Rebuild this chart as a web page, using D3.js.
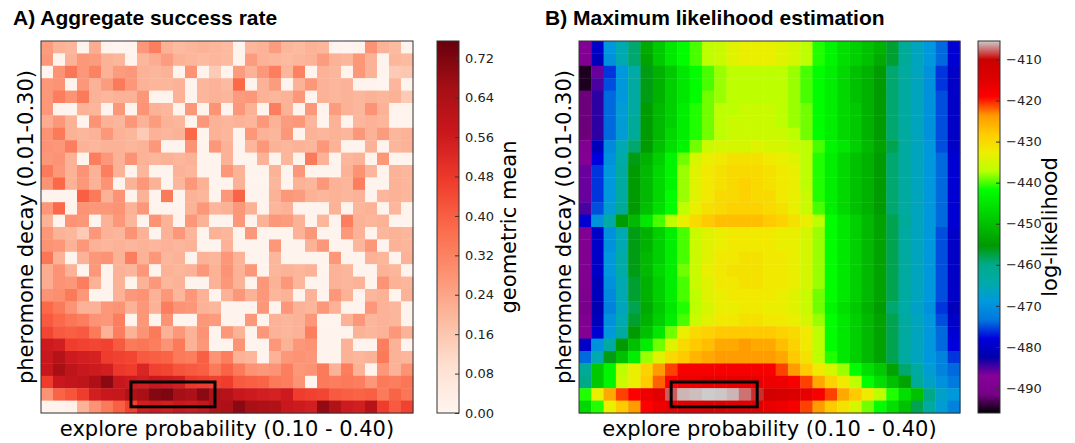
<!DOCTYPE html>
<html>
<head>
<meta charset="utf-8">
<script src="https://cdn.jsdelivr.net/npm/d3@7"></script>
<style>
  body { margin: 0; background: #fff; }
  text { font-family: "DejaVu Sans", sans-serif; }
</style>
</head>
<body>
<script>
// parameter grid
var exploreLevels = [0.10,0.11,0.12,0.13,0.14,0.15,0.16,0.17,0.18,0.19,0.20,0.21,0.22,0.23,0.24,0.25,
                     0.26,0.27,0.28,0.29,0.30,0.31,0.32,0.33,0.34,0.35,0.36,0.37,0.38,0.39,0.40];
// rows from top (0.30) to bottom (0.01)
var decayLevels = [0.30,0.29,0.28,0.27,0.26,0.25,0.24,0.23,0.22,0.21,0.20,0.19,0.18,0.17,0.16,
                   0.15,0.14,0.13,0.12,0.11,0.10,0.09,0.08,0.07,0.06,0.05,0.04,0.03,0.02,0.01];

// A) geometric mean success rate, one row per decay level
var successRate = [
 [0.26,0.21,0.20,0.01,0.22,0.01,0.00,0.01,0.27,0.33,0.21,0.19,0.20,0.21,0.20,0.19,0.01,0.20,0.21,0.26,0.20,0.19,0.21,0.20,0.01,0.00,0.01,0.28,0.21,0.19,0.01],
 [0.27,0.01,0.21,0.27,0.26,0.21,0.20,0.01,0.20,0.22,0.26,0.21,0.20,0.19,0.20,0.19,0.01,0.26,0.21,0.20,0.19,0.20,0.21,0.26,0.21,0.20,0.27,0.21,0.01,0.20,0.19],
 [0.01,0.28,0.35,0.27,0.32,0.21,0.26,0.27,0.21,0.20,0.21,0.01,0.28,0.01,0.15,0.01,0.26,0.21,0.27,0.33,0.20,0.32,0.01,0.21,0.20,0.01,0.27,0.21,0.01,0.15,0.16],
 [0.27,0.28,0.01,0.27,0.21,0.26,0.34,0.27,0.21,0.20,0.20,0.21,0.01,0.20,0.21,0.19,0.38,0.01,0.21,0.26,0.01,0.21,0.27,0.21,0.20,0.21,0.01,0.01,0.00,0.20,0.01],
 [0.27,0.33,0.28,0.34,0.21,0.20,0.21,0.21,0.27,0.01,0.01,0.21,0.01,0.20,0.21,0.20,0.26,0.27,0.21,0.20,0.21,0.27,0.01,0.21,0.20,0.21,0.20,0.21,0.20,0.21,0.15],
 [0.27,0.01,0.01,0.21,0.20,0.01,0.27,0.01,0.28,0.21,0.20,0.01,0.27,0.01,0.28,0.01,0.27,0.21,0.01,0.33,0.21,0.01,0.27,0.01,0.26,0.21,0.20,0.28,0.21,0.01,0.01],
 [0.22,0.27,0.21,0.01,0.28,0.21,0.20,0.27,0.21,0.26,0.21,0.20,0.01,0.27,0.21,0.20,0.21,0.20,0.27,0.21,0.26,0.27,0.20,0.01,0.21,0.01,0.20,0.21,0.20,0.01,0.01],
 [0.28,0.34,0.21,0.20,0.21,0.27,0.21,0.20,0.15,0.21,0.20,0.21,0.38,0.01,0.21,0.20,0.01,0.27,0.21,0.20,0.27,0.01,0.21,0.20,0.21,0.20,0.27,0.21,0.26,0.20,0.21],
 [0.28,0.27,0.33,0.21,0.20,0.21,0.21,0.20,0.21,0.27,0.01,0.01,0.28,0.01,0.27,0.21,0.01,0.20,0.27,0.21,0.20,0.21,0.20,0.27,0.21,0.01,0.01,0.21,0.01,0.20,0.21],
 [0.27,0.28,0.21,0.01,0.33,0.27,0.21,0.28,0.21,0.20,0.21,0.20,0.21,0.01,0.01,0.21,0.01,0.01,0.21,0.01,0.20,0.01,0.34,0.21,0.01,0.20,0.21,0.01,0.27,0.01,0.01],
 [0.34,0.27,0.21,0.28,0.21,0.33,0.21,0.01,0.20,0.01,0.01,0.21,0.20,0.01,0.01,0.27,0.21,0.01,0.01,0.21,0.01,0.27,0.01,0.01,0.01,0.21,0.28,0.20,0.01,0.21,0.20],
 [0.28,0.38,0.21,0.27,0.21,0.28,0.01,0.21,0.27,0.21,0.01,0.20,0.27,0.21,0.01,0.01,0.21,0.01,0.01,0.20,0.01,0.21,0.20,0.27,0.21,0.20,0.33,0.01,0.01,0.21,0.20],
 [0.01,0.01,0.01,0.40,0.34,0.21,0.28,0.01,0.21,0.01,0.34,0.01,0.21,0.20,0.01,0.27,0.39,0.01,0.01,0.21,0.27,0.26,0.21,0.20,0.21,0.20,0.21,0.01,0.20,0.21,0.20],
 [0.27,0.38,0.01,0.28,0.27,0.27,0.28,0.21,0.27,0.01,0.01,0.01,0.21,0.27,0.20,0.21,0.27,0.21,0.01,0.20,0.21,0.01,0.01,0.01,0.21,0.01,0.20,0.21,0.01,0.20,0.01],
 [0.21,0.01,0.28,0.27,0.01,0.21,0.27,0.20,0.01,0.28,0.21,0.01,0.27,0.21,0.01,0.01,0.27,0.01,0.21,0.27,0.26,0.21,0.01,0.20,0.01,0.33,0.21,0.20,0.21,0.01,0.01],
 [0.27,0.21,0.20,0.15,0.27,0.21,0.20,0.28,0.21,0.01,0.21,0.27,0.20,0.01,0.21,0.20,0.01,0.27,0.01,0.01,0.01,0.21,0.27,0.01,0.01,0.27,0.21,0.01,0.20,0.21,0.20],
 [0.28,0.27,0.21,0.27,0.21,0.20,0.21,0.20,0.21,0.20,0.21,0.20,0.21,0.01,0.01,0.21,0.01,0.01,0.01,0.27,0.01,0.01,0.21,0.27,0.01,0.01,0.20,0.27,0.01,0.21,0.20],
 [0.35,0.21,0.01,0.21,0.27,0.28,0.21,0.33,0.21,0.27,0.20,0.21,0.01,0.21,0.20,0.27,0.21,0.01,0.01,0.20,0.01,0.01,0.01,0.01,0.27,0.01,0.01,0.21,0.20,0.01,0.21],
 [0.22,0.28,0.21,0.01,0.27,0.01,0.21,0.20,0.27,0.01,0.21,0.20,0.21,0.27,0.21,0.28,0.21,0.27,0.01,0.20,0.21,0.20,0.21,0.01,0.21,0.20,0.01,0.01,0.21,0.20,0.01],
 [0.22,0.28,0.27,0.33,0.21,0.01,0.21,0.01,0.21,0.27,0.20,0.21,0.01,0.01,0.21,0.27,0.21,0.01,0.27,0.21,0.27,0.20,0.01,0.01,0.21,0.20,0.21,0.01,0.28,0.21,0.20],
 [0.28,0.29,0.34,0.27,0.01,0.01,0.21,0.27,0.28,0.21,0.27,0.20,0.27,0.21,0.01,0.21,0.27,0.21,0.27,0.20,0.21,0.01,0.21,0.01,0.27,0.21,0.01,0.20,0.21,0.01,0.21],
 [0.38,0.34,0.28,0.21,0.21,0.27,0.28,0.21,0.27,0.21,0.33,0.28,0.27,0.21,0.20,0.01,0.01,0.01,0.27,0.01,0.27,0.21,0.20,0.27,0.21,0.01,0.01,0.27,0.21,0.20,0.01],
 [0.41,0.38,0.35,0.33,0.28,0.27,0.33,0.01,0.27,0.01,0.28,0.01,0.01,0.27,0.26,0.01,0.01,0.27,0.01,0.21,0.20,0.21,0.27,0.01,0.01,0.21,0.27,0.20,0.21,0.20,0.01],
 [0.45,0.41,0.40,0.41,0.34,0.21,0.33,0.21,0.28,0.34,0.21,0.27,0.21,0.28,0.01,0.27,0.21,0.01,0.27,0.21,0.20,0.21,0.33,0.01,0.01,0.01,0.21,0.20,0.21,0.27,0.21],
 [0.56,0.55,0.47,0.46,0.45,0.46,0.41,0.34,0.35,0.33,0.28,0.34,0.21,0.27,0.01,0.01,0.28,0.01,0.01,0.27,0.21,0.27,0.28,0.01,0.01,0.21,0.01,0.01,0.33,0.21,0.01],
 [0.57,0.62,0.56,0.55,0.54,0.47,0.46,0.45,0.41,0.40,0.39,0.34,0.33,0.40,0.28,0.33,0.21,0.20,0.01,0.21,0.27,0.28,0.27,0.01,0.01,0.21,0.20,0.21,0.34,0.21,0.20],
 [0.58,0.65,0.60,0.57,0.56,0.55,0.48,0.47,0.53,0.46,0.45,0.42,0.41,0.40,0.34,0.39,0.34,0.28,0.27,0.28,0.33,0.27,0.28,0.34,0.21,0.33,0.21,0.01,0.27,0.21,0.28],
 [0.47,0.57,0.59,0.60,0.64,0.70,0.58,0.56,0.55,0.57,0.56,0.55,0.48,0.47,0.46,0.47,0.41,0.40,0.39,0.34,0.33,0.28,0.01,0.34,0.33,0.34,0.33,0.27,0.34,0.33,0.35],
 [0.28,0.39,0.42,0.47,0.55,0.57,0.58,0.63,0.65,0.71,0.72,0.66,0.64,0.70,0.63,0.62,0.57,0.56,0.55,0.54,0.56,0.47,0.46,0.45,0.41,0.40,0.39,0.40,0.34,0.39,0.35],
 [0.01,0.01,0.02,0.21,0.28,0.34,0.40,0.46,0.55,0.56,0.55,0.57,0.56,0.58,0.63,0.64,0.70,0.65,0.64,0.63,0.57,0.56,0.55,0.69,0.63,0.56,0.55,0.62,0.47,0.41,0.46]
];

// B) log-likelihood, one row per decay level
var logLikelihood = [
 [-488,-480,-469,-465,-459,-453,-449,-445,-442,-440,-437,-436,-434,-433,-433,-433,-434,-435,-437,-441,-443,-446,-448,-450,-452,-457,-462,-466,-469,-474,-479],
 [-489,-481,-470,-465,-459,-454,-449,-445,-442,-440,-437,-436,-434,-433,-433,-433,-434,-435,-437,-441,-443,-446,-448,-450,-453,-457,-462,-466,-469,-474,-479],
 [-495,-486,-476,-469,-464,-456,-452,-449,-445,-442,-440,-438,-437,-437,-437,-437,-437,-438,-440,-442,-444,-447,-450,-452,-455,-459,-463,-466,-470,-476,-480],
 [-495,-485,-475,-469,-463,-456,-452,-448,-445,-442,-440,-438,-437,-437,-437,-437,-437,-438,-440,-442,-444,-447,-450,-452,-455,-459,-463,-466,-470,-476,-480],
 [-492,-484,-474,-469,-463,-456,-452,-448,-445,-442,-439,-438,-437,-437,-437,-437,-437,-438,-440,-442,-444,-447,-450,-452,-455,-459,-463,-466,-470,-475,-480],
 [-492,-484,-474,-468,-463,-455,-451,-448,-444,-441,-439,-437,-437,-436,-436,-436,-437,-438,-439,-442,-444,-447,-449,-452,-455,-459,-463,-466,-470,-475,-480],
 [-492,-484,-474,-468,-462,-455,-451,-448,-444,-441,-439,-437,-436,-436,-436,-436,-437,-438,-439,-442,-444,-447,-449,-452,-455,-459,-463,-466,-470,-475,-480],
 [-492,-484,-474,-468,-462,-455,-451,-447,-444,-441,-439,-437,-436,-436,-436,-436,-436,-437,-439,-442,-444,-447,-449,-452,-455,-459,-463,-466,-470,-475,-480],
 [-489,-481,-471,-465,-459,-455,-450,-446,-443,-439,-436,-435,-435,-435,-434,-435,-435,-436,-437,-440,-443,-445,-448,-451,-454,-458,-463,-466,-469,-475,-480],
 [-488,-478,-470,-464,-456,-452,-448,-443,-439,-435,-433,-432,-431,-431,-431,-432,-433,-434,-437,-441,-444,-447,-450,-452,-455,-459,-463,-466,-469,-474,-479],
 [-486,-476,-469,-463,-455,-451,-447,-443,-438,-434,-432,-431,-430,-430,-430,-431,-432,-433,-437,-441,-444,-447,-450,-452,-455,-459,-463,-466,-469,-474,-479],
 [-486,-476,-469,-463,-455,-451,-447,-443,-438,-434,-432,-431,-430,-429,-430,-431,-432,-433,-437,-441,-444,-447,-450,-452,-455,-459,-463,-466,-469,-474,-479],
 [-486,-476,-469,-463,-455,-451,-447,-442,-438,-434,-432,-430,-430,-429,-430,-430,-432,-433,-436,-441,-444,-447,-450,-452,-455,-459,-463,-466,-469,-474,-479],
 [-485,-475,-468,-462,-455,-450,-446,-442,-437,-433,-431,-430,-429,-429,-429,-430,-431,-433,-436,-440,-444,-447,-450,-452,-455,-459,-463,-466,-469,-474,-479],
 [-479,-470,-464,-455,-451,-445,-440,-437,-433,-430,-428,-427,-427,-427,-427,-428,-429,-431,-433,-437,-442,-445,-448,-451,-454,-458,-462,-466,-469,-474,-479],
 [-489,-480,-470,-465,-456,-452,-448,-444,-440,-436,-434,-433,-432,-432,-432,-432,-433,-433,-435,-438,-442,-445,-448,-451,-454,-458,-463,-466,-469,-475,-480],
 [-489,-480,-470,-465,-456,-452,-448,-444,-440,-436,-434,-433,-432,-432,-432,-432,-433,-433,-435,-438,-442,-445,-448,-451,-454,-458,-463,-466,-469,-475,-480],
 [-489,-480,-469,-464,-456,-451,-448,-444,-440,-436,-434,-432,-432,-431,-431,-432,-432,-433,-435,-438,-442,-445,-448,-451,-454,-458,-463,-466,-469,-475,-480],
 [-489,-480,-469,-464,-456,-451,-447,-444,-439,-436,-433,-432,-431,-431,-431,-432,-432,-433,-435,-438,-442,-445,-448,-451,-454,-458,-463,-466,-469,-475,-480],
 [-489,-481,-470,-465,-457,-452,-448,-444,-440,-436,-434,-432,-432,-431,-431,-432,-432,-433,-435,-438,-442,-445,-448,-451,-454,-458,-463,-466,-469,-475,-480],
 [-490,-481,-471,-465,-457,-452,-448,-444,-440,-437,-434,-433,-432,-432,-432,-432,-433,-434,-436,-439,-442,-445,-448,-451,-454,-458,-463,-466,-469,-475,-480],
 [-491,-482,-472,-466,-458,-453,-449,-445,-441,-437,-435,-433,-433,-432,-432,-433,-433,-434,-436,-439,-443,-446,-449,-452,-455,-459,-464,-467,-470,-476,-481],
 [-489,-481,-470,-465,-457,-452,-448,-444,-440,-436,-434,-432,-432,-431,-431,-432,-432,-433,-435,-438,-442,-445,-448,-451,-454,-458,-463,-466,-469,-475,-480],
 [-488,-479,-469,-463,-455,-450,-445,-439,-433,-430,-429,-428,-428,-428,-428,-428,-429,-430,-432,-437,-442,-445,-448,-451,-454,-458,-463,-466,-469,-474,-479],
 [-480,-470,-463,-455,-450,-444,-439,-434,-430,-428,-427,-425,-425,-424,-425,-425,-427,-429,-432,-437,-442,-445,-448,-451,-454,-458,-463,-466,-469,-474,-478],
 [-474,-465,-456,-450,-444,-438,-434,-430,-428,-426,-425,-424,-424,-424,-424,-424,-425,-428,-431,-437,-441,-445,-448,-451,-454,-458,-463,-466,-469,-472,-476],
 [-462,-449,-443,-437,-433,-429,-424,-421,-418,-418,-418,-418,-418,-418,-418,-418,-421,-424,-428,-432,-435,-438,-442,-446,-449,-454,-459,-463,-468,-472,-474],
 [-460,-449,-443,-436,-433,-428,-422,-419,-417,-417,-416,-416,-416,-416,-416,-417,-417,-418,-421,-425,-429,-432,-437,-442,-446,-450,-454,-462,-467,-470,-473],
 [-441,-433,-425,-421,-419,-417,-415,-408,-406,-405.8,-405.5,-405.6,-406,-407.5,-409,-412,-413,-414,-416,-418,-421,-425,-428,-432,-437,-441,-446,-450,-460,-467,-469],
 [-447,-441,-433,-428,-424,-419,-417,-416,-415,-415,-414,-414,-415,-415,-415,-416,-417,-418,-421,-424,-428,-431,-435,-439,-442,-446,-450,-458,-463,-468,-472]
];

// highlighted best region (explore, decay)
var bestExplore = [0.17, 0.24];
var bestDecay = [0.01, 0.03];

var successTicks = [0.00,0.08,0.16,0.24,0.32,0.40,0.48,0.56,0.64,0.72];
var likelihoodTicks = [-490,-480,-470,-460,-450,-440,-430,-420,-410];

// colormaps (matplotlib Reds and nipy_spectral)
var redsColors = ["#fff5f0","#fee0d2","#fcbba1","#fc9272","#fb6a4a","#ef3b2c","#cb181d","#a50f15","#67000d"];
var spectralColors = ["#000000","#770088","#880099","#0000aa","#0000dd","#0077dd","#0099dd","#00aaaa","#00aa88","#009900",
                      "#00bb00","#00dd00","#00ff00","#bbff00","#eeee00","#ffcc00","#ff9900","#ff0000","#dd0000","#cc0000","#cccccc"];

var svg = d3.select("body").append("svg")
            .attr("width", 1075)
            .attr("height", 443);
var defs = svg.append("defs");

function makeColor(colors, lo, hi) {
    var dom = colors.map(function(c, i){ return lo + (hi - lo) * i / (colors.length - 1); });
    return d3.scaleLinear().domain(dom).range(colors).clamp(true);
}

function drawPanel(p) {
    var g = svg.append("g");

    var x = d3.scaleLinear().domain([0.095, 0.405]).range([p.left, p.right]);
    var y = d3.scaleLinear().domain([0.005, 0.305]).range([p.bottom, p.top]);
    var color = makeColor(p.colors, p.vmin, p.vmax);

    var cells = [];
    p.values.forEach(function(row, r){
        row.forEach(function(v, c){
            cells.push({e: exploreLevels[c], d: decayLevels[r], v: v});
        });
    });

    g.selectAll("rect.cell")
        .data(cells)
        .enter().append("rect")
            .attr("class", "cell")
            .attr("x", function(d){ return x(d.e - 0.005); })
            .attr("y", function(d){ return y(d.d + 0.005); })
            .attr("width", function(d){ return x(d.e + 0.005) - x(d.e - 0.005) + 0.4; })
            .attr("height", function(d){ return y(d.d - 0.005) - y(d.d + 0.005) + 0.4; })
            .attr("fill", function(d){ return color(d.v); });

    // frame
    g.append("rect")
        .attr("x", p.left).attr("y", p.top)
        .attr("width", p.right - p.left).attr("height", p.bottom - p.top)
        .attr("fill", "none").attr("stroke", "#333").attr("stroke-width", 1);

    // best region box
    g.append("rect")
        .attr("x", x(bestExplore[0])).attr("y", y(bestDecay[1]))
        .attr("width", x(bestExplore[1]) - x(bestExplore[0]))
        .attr("height", y(bestDecay[0]) - y(bestDecay[1]))
        .attr("fill", "none").attr("stroke", "#000").attr("stroke-width", 3);

    // titles and axis labels
    g.append("text")
        .attr("x", p.titleX).attr("y", 25)
        .style("font-family", "'Liberation Sans', Arial, sans-serif")
        .style("font-weight", "bold").style("font-size", "21px")
        .text(p.title);

    g.append("text")
        .attr("x", (p.left + p.right) / 2).attr("y", 436)
        .attr("text-anchor", "middle").style("font-size", "21px")
        .text("explore probability (0.10 - 0.40)");

    g.append("text")
        .attr("transform", "translate(" + (p.left - 8) + "," + ((p.top + p.bottom) / 2) + ") rotate(-90)")
        .attr("text-anchor", "middle").style("font-size", "21px")
        .text("pheromone decay (0.01-0.30)");

    // colorbar
    var gid = "grad" + p.id;
    var grad = defs.append("linearGradient").attr("id", gid)
        .attr("x1", 0).attr("y1", 1).attr("x2", 0).attr("y2", 0);
    p.colors.forEach(function(c, i){
        grad.append("stop").attr("offset", i / (p.colors.length - 1)).attr("stop-color", c);
    });
    g.append("rect")
        .attr("x", p.cbLeft).attr("y", p.top)
        .attr("width", 22).attr("height", p.bottom - p.top)
        .attr("fill", "url(#" + gid + ")")
        .attr("stroke", "#333").attr("stroke-width", 1);

    var cy = d3.scaleLinear().domain([p.vmin, p.vmax]).range([p.bottom, p.top]);
    var axis = g.append("g")
        .attr("transform", "translate(" + (p.cbLeft + 22) + ",0)")
        .call(d3.axisRight(cy).tickValues(p.ticks).tickFormat(p.format).tickSize(-4).tickPadding(6));
    axis.select(".domain").remove();
    axis.selectAll("line").attr("stroke", "#333");
    axis.selectAll("text").style("font-family", "'DejaVu Sans', sans-serif").style("font-size", "13px").attr("fill", "#222");

    g.append("text")
        .attr("transform", "translate(" + (p.cbLeft + 22 + 57) + "," + ((p.top + p.bottom) / 2) + ") rotate(-90)")
        .attr("text-anchor", "middle").style("font-size", "21px")
        .text(p.cbLabel);
}

drawPanel({
    id: "A", values: successRate, colors: redsColors, vmin: 0, vmax: 0.755,
    left: 41, right: 413, top: 41, bottom: 413,
    title: "A) Aggregate success rate", titleX: 13,
    cbLeft: 437, ticks: successTicks, format: d3.format(".2f"), cbLabel: "geometric mean"
});

drawPanel({
    id: "B", values: logLikelihood, colors: spectralColors, vmin: -496.1, vmax: -405.5,
    left: 579, right: 960, top: 41, bottom: 413,
    title: "B) Maximum likelihood estimation", titleX: 545,
    cbLeft: 978, ticks: likelihoodTicks, format: d3.format("d"), cbLabel: "log-likelihood"
});
</script>
</body>
</html>
